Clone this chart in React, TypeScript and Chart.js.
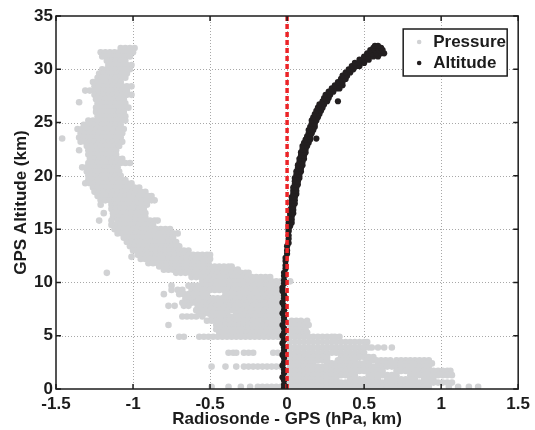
import React, { useEffect, useRef } from "react";
import { Chart, registerables } from "chart.js";

Chart.register(...registerables);

// Axis ticks
const xTicks = [-1.5, -1, -0.5, 0, 0.5, 1, 1.5];
const yTicks = [0, 5, 10, 15, 20, 25, 30, 35];
const seriesNames = ["Pressure", "Altitude"];
const xTitle = "Radiosonde - GPS (hPa, km)";
const yTitle = "GPS Altitude (km)";
const referenceX = 0;

// Pressure differences, rows of [GPS altitude (km), differences in 0.01 hPa]
const pressureUpper: [number, number[]][] = [
  [32.0, [-108, -105, -102, -99]],
  [31.6, [-121, -118, -115, -112, -109, -106, -103, -100]],
  [31.2, [-120, -117, -114, -111, -108, -105, -102]],
  [30.8, [-117, -114, -111, -108, -105]],
  [30.4, [-116, -113, -110, -107, -104, -101]],
  [30.0, [-120, -117, -114, -111, -108, -105, -102]],
  [29.6, [-122, -119, -116, -113, -110, -107, -104]],
  [29.2, [-123, -120, -117, -114, -111, -108, -105]],
  [28.8, [-126, -123, -120, -117, -114, -111, -108]],
  [28.4, [-125, -122, -119, -116, -113, -110, -107, -104, -101]],
  [28.0, [-131, -128, -125, -122, -119, -116, -113, -110, -107, -104]],
  [27.6, [-125, -122, -119, -116, -113, -110, -107, -104, -101]],
  [27.2, [-124, -121, -118, -115, -112, -109, -106]],
  [26.9, [-135]],
  [26.8, [-123, -120, -117, -114, -111, -108, -105]],
  [26.4, [-124, -121, -118, -115, -112, -109, -106, -103]],
  [26.0, [-124, -121, -118, -115, -112, -109, -106]],
  [25.6, [-123, -120, -117, -114, -111, -108, -105]],
  [25.2, [-129, -126, -123, -120, -117, -114, -111, -108, -105]],
  [24.8, [-132, -129, -126, -123, -120, -117, -114, -111, -108]],
  [24.4, [-136, -133, -130, -127, -124, -121, -118, -115, -112, -109, -106]],
  [24.0, [-134, -131, -128, -125, -122, -119, -116, -113, -110, -107]],
  [23.6, [-135, -132, -129, -126, -123, -120, -117, -114, -111, -108]],
  [23.5, [-146]],
  [23.2, [-134, -131, -128, -125, -122, -119, -116, -113, -110, -107]],
  [22.8, [-130, -127, -124, -121, -118, -115, -112, -109]],
  [22.4, [-135, -129, -126, -123, -120, -117, -114, -111]],
  [22.0, [-129, -126, -123, -120, -117, -114, -111]],
  [21.6, [-128, -125, -122, -119, -116, -113, -110, -107]],
  [21.2, [-129, -126, -123, -120, -117, -114, -111, -108, -105, -102]],
  [20.8, [-133, -130, -127, -124, -121, -118, -115, -112, -110]],
  [20.4, [-130, -127, -124, -121, -118, -115, -112, -109]],
  [20.0, [-129, -126, -123, -120, -117, -114, -111, -108]],
  [19.6, [-129, -126, -123, -120, -117, -114, -111, -108, -105]],
  [19.3, [-131, -128, -125, -122, -119, -116, -113, -110, -107, -104, -101]],
  [18.9, [-126, -123, -120, -117, -114, -111, -108, -105, -102, -99, -96]],
  [18.5, [-125, -122, -119, -116, -113, -110, -107, -104, -101, -98, -95, -92]],
  [18.1, [-123, -120, -117, -114, -111, -108, -105, -102, -99, -96, -93, -90, -88]],
  [17.7, [-121, -118, -115, -112, -109, -106, -103, -100, -97, -94, -91, -88, -86]],
  [17.3, [-121, -114, -111, -108, -105, -102, -99, -96, -93, -91]],
  [16.9, [-114, -111, -108, -105, -102, -99, -96, -93]],
  [16.5, [-119, -113, -110, -107, -104, -101, -98, -95, -92]],
  [16.1, [-113, -110, -107, -104, -101, -98, -95, -92]],
  [15.8, [-122, -114, -110, -107, -104, -101, -98, -95, -92, -89, -86, -84]],
  [15.4, [-114, -111, -108, -105, -102, -99, -96, -93, -90, -87]],
  [15.0, [-112, -109, -106, -103, -100, -97, -94, -91, -88, -85, -82, -79, -76]],
  [14.6, [-110, -107, -104, -101, -98, -95, -92, -89, -86, -83, -80, -77, -74, -71]],
  [14.2, [-106, -103, -100, -97, -94, -91, -88, -85, -82, -79, -76, -74]],
];

const pressureMiddle: [number, number[]][] = [
  [13.8, [-104, -101, -98, -95, -92, -89, -86, -83, -80, -77, -74, -72]],
  [13.4, [-102, -99, -96, -93, -90, -87, -84, -81, -78, -75, -72, -70]],
  [13.0, [-100, -97, -94, -91, -88, -85, -82, -79, -76, -73, -70, -67, -64]],
  [12.6, [-97, -94, -91, -88, -85, -82, -79, -76, -73, -70, -67, -64, -61, -58, -55, -52, -50]],
  [12.4, [-101]],
  [12.2, [-95, -92, -89, -86, -83, -80, -77, -74, -71, -68, -65, -62, -59, -56, -53, -50]],
  [11.8, [-90, -87, -84, -81, -78, -75, -72, -69, -66, -63, -60, -57, -54, -51]],
  [11.5, [-83, -80, -77, -74, -71, -68, -65, -62, -59, -56, -53, -50, -47, -44, -41, -38, -36]],
  [11.2, [-80, -77, -74, -71, -68, -65, -62, -59, -56, -53, -50, -47, -44, -41, -38, -35, -32]],
  [10.9, [-117, -72, -69, -66, -63, -60, -57, -54, -51, -48, -45, -42, -39, -36, -33, -30, -27, -25]],
  [10.5, [-62, -59, -56, -53, -50, -47, -44, -41, -38, -35, -32, -29, -26, -23, -20, -17, -14, -11]],
  [10.1, [-55, -52, -49, -46, -43, -40, -37, -34, -31, -28, -25, -22, -19, -16, -13, -10, -7, -4, 2]],
  [9.7, [-75, -64, -61, -58, -55, -52, -49, -46, -43, -40, -37, -34, -31, -28, -25, -22, -19, -16, -13, -10, -7, -4]],
  [9.3, [-75, -71, -68, -62, -59, -56, -53, -50, -47, -44, -41, -38, -35, -32, -29, -26, -23, -20, -17, -14, -11, -8, -5]],
  [8.9, [-80, -70, -67, -64, -61, -58, -55, -52, -40, -37, -34, -31, -28, -25, -22, -19, -16, -13, -10, -7, -4]],
  [8.5, [-66, -63, -60, -57, -54, -51, -48, -45, -42, -39, -36, -33, -30, -27, -24, -21, -18, -15, -12, -9, -6]],
  [8.1, [-68, -65, -62, -59, -56, -53, -50, -47, -44, -41, -38, -35, -32, -29, -26, -23, -20, -17, -14, -11, -8, -5]],
  [7.8, [-77, -73, -67, -64, -58, -55, -52, -49, -46, -43, -40, -37, -34, -31, -28, -25, -22, -19, -16, -13, -10, -7, -4]],
  [7.4, [-59, -56, -53, -50, -47, -44, -41, -38, -35, -32, -29, -26, -23, -20, -17, -14, -11, -8, -6]],
  [7.1, [-57, -54, -51, -48, -45, -42, -39, -33, -30, -27, -24, -21, -18, -15, -12, -9, -6]],
  [6.8, [-68, -65, -62, -59, -55, -49, -46, -43, -40, -37, -34, -31, -28, -25, -22, -19, -16, -13, -10, -7, -4]],
  [6.4, [-52, -49, -46, -43, -40, -37, -34, -31, -28, -25, -22, -19, -16, -13, -10, -7, -4, 3, 6, 9, 13]],
  [6.0, [-77, -46, -43, -40, -37, -34, -31, -28, -25, -22, -19, -16, -13, -10, -7, -4, 2, 5, 8, 11, 14]],
  [5.6, [-46, -43, -40, -37, -34, -31, -28, -25, -22, -19, -16, -13, -10, -7, -4, 3, 6, 9, 12]],
  [5.3, [-44, -41, -38, -35, -32, -29, -26, -23, -20, -17, -14, -11, -8, -5, 2, 5, 8, 11, 13]],
];

const pressureLower: [number, number[]][] = [
  [4.9, [-70, -67, -57, -54, -51, -48, -45, -42, -39, -36, -33, -30, -27, -24, -21, -18, -15, -12, -9, -6, -4, 2, 5, 8, 11, 14, 17, 20, 23, 26, 29, 31, 34]],
  [4.4, [2, 5, 8, 11, 14, 17, 20, 23, 26, 29, 32, 35, 38, 41, 44, 47, 50, 52]],
  [3.9, [2, 5, 8, 11, 14, 17, 20, 23, 26, 29, 32, 35, 38, 41, 44, 47, 50, 53, 55, 59, 63, 68]],
  [3.4, [-38, -35, -33, -28, -25, -22, -9, -6, 2, 5, 8, 11, 14, 17, 20, 23, 26, 29, 32, 35, 38, 41, 44, 47, 50]],
  [3.0, [2, 5, 8, 11, 14, 17, 20, 23, 26, 35, 38, 41, 44, 47, 50, 53, 56]],
  [2.7, [2, 5, 8, 11, 14, 17, 20, 23, 26, 33, 36, 39, 42, 44, 52, 55, 58, 61, 64, 67, 71, 74, 77, 80, 83, 86, 89, 92]],
  [2.4, [2, 5, 8, 11, 14, 17, 26, 29, 32, 35, 38, 41, 44, 47, 50, 53, 59, 62, 65, 68, 71, 74, 77, 80, 83, 86, 89, 92, 94]],
  [2.1, [-49, -40, -33, -28, -25, -22, -19, -16, -13, -10, -7, -4, 2, 5, 8, 11, 14, 17, 20, 23, 26, 29, 32, 35, 38, 41, 44, 47, 50, 53, 56, 59, 62, 65, 68, 71, 74, 77, 80, 83, 86, 89, 92]],
  [1.7, [2, 5, 8, 11, 14, 17, 20, 23, 26, 29, 32, 35, 38, 41, 44, 47, 50, 53, 56, 59, 62, 71, 74, 77, 80, 83, 86, 89, 92, 95, 98, 101, 104, 106]],
  [1.3, [2, 5, 8, 11, 14, 17, 20, 23, 26, 29, 32, 35, 38, 41, 44, 53, 56, 59, 62, 65, 68, 71, 80, 83, 86, 89, 92, 95, 98, 101, 104, 107]],
  [0.9, [2, 5, 8, 11, 14, 17, 20, 23, 26, 29, 32, 41, 44, 47, 50, 53, 56, 59, 65, 68, 71, 74, 77, 80, 83, 89, 92, 95]],
  [0.6, [2, 5, 8, 11, 14, 17, 20, 23, 26, 29, 32, 35, 38, 41, 44, 47, 50, 53, 56, 59, 62, 65, 68, 71, 74, 77, 80, 83, 86, 89, 92, 95, 98, 101, 104, 107]],
  [0.2, [-49, -38, -30, -24, -19, -16, -13, -10, -7, -4, 2, 5, 8, 11, 14, 17, 20, 23, 26, 29, 32, 35, 38, 41, 44, 47, 50, 53, 56, 59, 62, 65, 68, 71, 74, 77, 80, 83, 86, 89, 92, 105, 111, 118, 124]],
];

// Altitude differences, [GPS altitude (km), difference in 0.01 km]
const altitudeLower: [number, number][] = [
  [0.1, -2], [0.4, -2], [0.8, -2], [1.1, -3], [1.5, -2], [1.8, -2], [2.2, -3], [2.5, -2],
  [2.9, -2], [3.2, -3], [3.6, -2], [3.9, -2], [4.3, -3], [4.6, -2], [5.0, -3], [5.3, -2],
  [5.7, -2], [6.0, -3], [6.4, -2], [6.7, -2], [7.1, -3], [7.4, -2], [7.8, -2], [8.1, -3],
  [8.5, -2], [8.8, -2], [9.2, -3], [9.5, -3], [9.9, -2], [10.2, -2], [10.6, -2], [10.9, -2],
  [11.3, -1], [11.6, -1], [12.0, -1], [12.3, -1], [12.7, 0], [13.0, 0], [13.4, 0], [13.7, 1],
  [14.1, 1], [14.4, 1], [14.8, 1],
];

const altitudeUpper: [number, number[]][] = [
  [15.0, [1]], [15.3, [1, 2]], [15.6, [1, 3]], [15.9, [2, 3]], [16.2, [2, 3]], [16.5, [2, 4]],
  [16.8, [2, 4]], [17.1, [3, 4]], [17.4, [3, 5]], [17.7, [3, 5]], [18.0, [3, 5]], [18.3, [4, 6]],
  [18.6, [4, 6]], [18.9, [4, 6]], [19.2, [5, 7]], [19.5, [5, 7]], [19.8, [5, 8]], [20.1, [6, 8]],
  [20.4, [6, 9]], [20.7, [7, 9]], [21.0, [7, 10]], [21.3, [8, 10]], [21.6, [8, 11]], [21.9, [9, 11]],
  [22.2, [9, 12]], [22.5, [10, 12]], [22.8, [10, 13]], [23.1, [11, 14]], [23.4, [12, 15]], [23.5, [19]],
  [23.7, [13, 15]], [24.0, [14, 16]], [24.3, [14, 17]], [24.6, [15, 18]], [24.9, [16, 18]], [25.2, [16, 19]],
  [25.5, [17, 20]], [25.8, [18, 21]], [26.1, [19, 22]], [26.4, [20, 23]], [26.7, [21, 24]], [27.0, [23, 26, 33]],
  [27.3, [24, 27]], [27.6, [25, 28]], [27.9, [27, 30]], [28.2, [29, 32, 34]], [28.5, [31, 34, 36]], [28.8, [33, 36]],
  [29.1, [35, 38]], [29.4, [36, 39]], [29.7, [38, 41]], [30.0, [40, 43]], [30.3, [42, 45, 47]], [30.6, [44, 47, 50]],
  [30.9, [47, 50, 53]], [31.2, [50, 53, 56, 59]], [31.5, [52, 55, 58, 61, 63]], [31.8, [54, 57, 60, 62]],
  [32.0, [56, 59, 61]], [32.2, [57, 59]],
];

const GRAY = "#d1d2d4";
const BLACK = "#231f20";
const RED = "#ec2327";
const TEXT = "#1c1c1c";
const FONT_FAMILY = '"Liberation Sans", Arial, Helvetica, sans-serif';

const fromRows = (rows: [number, number[]][]) =>
  rows.flatMap(([alt, xs]) => xs.map((x) => ({ x: x / 100, y: alt })));

const framePlugin = {
  id: "matlabFrame",
  beforeDatasetsDraw(chart: any) {
    const { ctx, chartArea: a, scales } = chart;
    ctx.save();
    ctx.strokeStyle = "#a8a8a8";
    ctx.lineWidth = 1;
    ctx.setLineDash([1, 2]);
    xTicks.forEach((v) => {
      const px = Math.round(scales.x.getPixelForValue(v)) + 0.5;
      if (px <= a.left + 1 || px >= a.right - 1) return;
      ctx.beginPath();
      ctx.moveTo(px, a.top);
      ctx.lineTo(px, a.bottom);
      ctx.stroke();
    });
    yTicks.forEach((v) => {
      const py = Math.round(scales.y.getPixelForValue(v)) + 0.5;
      if (py <= a.top + 1 || py >= a.bottom - 1) return;
      ctx.beginPath();
      ctx.moveTo(a.left, py);
      ctx.lineTo(a.right, py);
      ctx.stroke();
    });
    ctx.restore();
  },
  afterDraw(chart: any) {
    const { ctx, chartArea: a, scales } = chart;
    ctx.save();
    ctx.setLineDash([]);
    ctx.strokeStyle = TEXT;
    ctx.lineWidth = 1.5;
    ctx.strokeRect(a.left, a.top, a.right - a.left, a.bottom - a.top);
    const tl = 5;
    ctx.beginPath();
    xTicks.forEach((v) => {
      const px = scales.x.getPixelForValue(v);
      ctx.moveTo(px, a.bottom);
      ctx.lineTo(px, a.bottom - tl);
      ctx.moveTo(px, a.top);
      ctx.lineTo(px, a.top + tl);
    });
    yTicks.forEach((v) => {
      const py = scales.y.getPixelForValue(v);
      ctx.moveTo(a.left, py);
      ctx.lineTo(a.left + tl, py);
      ctx.moveTo(a.right, py);
      ctx.lineTo(a.right - tl, py);
    });
    ctx.stroke();

    // legend box
    const lw = 104;
    const lh = 47;
    const lx = a.right - 11 - lw;
    const ly = a.top + 13;
    ctx.fillStyle = "#ffffff";
    ctx.fillRect(lx, ly, lw, lh);
    ctx.lineWidth = 1.5;
    ctx.strokeStyle = TEXT;
    ctx.strokeRect(lx, ly, lw, lh);
    const colors = [GRAY, BLACK];
    seriesNames.forEach((name, i) => {
      const cy = ly + 13 + i * 21;
      ctx.fillStyle = colors[i];
      ctx.beginPath();
      ctx.arc(lx + 16, cy, 2.3, 0, Math.PI * 2);
      ctx.fill();
      ctx.fillStyle = TEXT;
      ctx.font = `bold 17px ${FONT_FAMILY}`;
      ctx.textBaseline = "middle";
      ctx.textAlign = "left";
      ctx.fillText(name, lx + 30, cy);
    });
    ctx.restore();
  },
};

export default function App() {
  const canvasRef = useRef<HTMLCanvasElement | null>(null);

  useEffect(() => {
    const canvas = canvasRef.current;
    if (!canvas) return;
    const tickFont = { family: FONT_FAMILY, size: 17, weight: "bold" as const };
    const chart = new Chart(canvas, {
      type: "scatter",
      data: {
        datasets: [
          {
            type: "line",
            label: "zero",
            data: [
              { x: referenceX, y: yTicks[0] },
              { x: referenceX, y: yTicks[yTicks.length - 1] },
            ],
            borderColor: RED,
            borderWidth: 3.5,
            borderDash: [5, 3],
            pointRadius: 0,
            fill: false,
            order: 0,
          } as any,
          {
            label: seriesNames[1],
            data: [
              ...altitudeLower.map(([alt, x]) => ({ x: x / 100, y: alt })),
              ...fromRows(altitudeUpper),
            ],
            backgroundColor: BLACK,
            borderWidth: 0,
            pointRadius: 3.1,
            order: 1,
          },
          {
            label: seriesNames[0],
            data: [...fromRows(pressureUpper), ...fromRows(pressureMiddle), ...fromRows(pressureLower)],
            backgroundColor: GRAY,
            borderWidth: 0,
            pointRadius: 3.3,
            order: 2,
          },
        ],
      },
      options: {
        responsive: false,
        animation: false,
        events: [],
        layout: { padding: { left: 0, top: 16, right: 13, bottom: 0 } },
        plugins: { legend: { display: false }, tooltip: { enabled: false } },
        scales: {
          x: {
            type: "linear",
            min: xTicks[0],
            max: xTicks[xTicks.length - 1],
            afterBuildTicks: (s: any) => {
              s.ticks = xTicks.map((v) => ({ value: v }));
            },
            afterFit: (s: any) => {
              s.height = 41;
            },
            grid: { display: false, drawTicks: false },
            border: { display: false },
            ticks: {
              color: TEXT,
              font: tickFont,
              padding: 5,
              maxRotation: 0,
              autoSkip: false,
              callback: (v: any) => String(v),
            },
            title: {
              display: true,
              text: xTitle,
              color: TEXT,
              font: tickFont,
              padding: { top: 0, bottom: 0 },
            },
          },
          y: {
            type: "linear",
            min: yTicks[0],
            max: yTicks[yTicks.length - 1],
            afterBuildTicks: (s: any) => {
              s.ticks = yTicks.map((v) => ({ value: v }));
            },
            afterFit: (s: any) => {
              s.width = 56;
            },
            grid: { display: false, drawTicks: false },
            border: { display: false },
            ticks: {
              color: TEXT,
              font: tickFont,
              padding: 3,
              autoSkip: false,
              callback: (v: any) => String(v),
            },
            title: {
              display: true,
              text: yTitle,
              color: TEXT,
              font: tickFont,
              padding: { top: 11, bottom: 0 },
            },
          },
        },
      },
      plugins: [framePlugin],
    });
    return () => chart.destroy();
  }, []);

  return (
    <div style={{ position: "fixed", left: 0, top: 0, width: 535, height: 430, background: "#fff" }}>
      <canvas ref={canvasRef} width={535} height={430} style={{ display: "block" }} />
    </div>
  );
}
